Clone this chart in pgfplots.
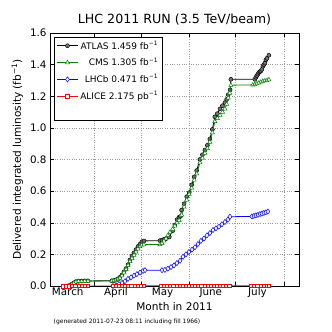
\documentclass[border=0pt]{standalone}
\usepackage{fontspec}
\setmainfont{DejaVu Sans}
\usepackage{pgfplots}
\pgfplotsset{compat=1.18}
\definecolor{mplgreen}{RGB}{0,128,0}
\begin{document}
\begin{tikzpicture}
\path[use as bounding box] (-50bp,-46bp) rectangle (282bp,286bp);
\begin{axis}[
  at={(0,0)}, anchor=south west,
  scale only axis, width=249bp, height=253bp,
  xmin=62.6, xmax=222.7, ymin=0, ymax=1.6,
  xtick={91,121,152,182,213}, xticklabels={},
  extra x ticks={74,105,135,166,196},
  extra x tick labels={March,April,May,June,July},
  extra x tick style={grid=none, major tick length=0pt},
  xticklabel style={yshift=2bp},
  ytick={0,0.2,0.4,0.6,0.8,1.0,1.2,1.4,1.6},
  yticklabel style={/pgf/number format/.cd, fixed, fixed zerofill, precision=1},
  /pgf/number format/assume math mode=true,
  tick align=inside,
  major tick length=4bp,
  tick style={black, line width=0.5pt},
  grid=major,
  grid style={dotted, gray!80, line width=0.5pt},
  axis line style={line width=0.8pt},
  ticklabel style={font=\fontsize{10.4}{12}\selectfont},
  title={LHC 2011 RUN (3.5 TeV/beam)},
  title style={font=\fontsize{12.7}{15}\selectfont, yshift=-2bp},
  xlabel={Month in 2011},
  xlabel style={yshift=1.5bp},
  ylabel={Delivered integrated luminosity (fb\textsuperscript{−1})},
  label style={font=\fontsize{10.6}{12}\selectfont},
  legend style={at={(0.018,0.985)}, anchor=north west, draw=black, line width=0.6pt,
    font=\fontsize{9}{11}\selectfont, row sep=3.2bp, inner sep=1.8bp},
  legend cell align=right,
  legend image code/.code={\draw[mark repeat=2,mark phase=2] plot coordinates {(0cm,0cm) (0.37cm,0cm) (0.74cm,0cm)};},
  clip mode=individual,
]
% ATLAS
\addplot[black, line width=0.8pt, mark=*, mark size=2pt, mark options={fill=black!55, draw=black, line width=0.5pt}] coordinates {
(74.2,0) (75.5,0.005) (76.7,0.012) (78.0,0.02) (79.3,0.028) (81.0,0.03) (83.0,0.031) (85.0,0.032) (87.0,0.032)
(102.4,0.033) (103.7,0.035) (105.0,0.038) (106.3,0.045) (107.6,0.055) (108.9,0.07) (110.2,0.09) (111.5,0.11)
(112.8,0.135) (114.0,0.165) (115.3,0.19) (116.6,0.21) (117.9,0.23) (119.2,0.25) (120.5,0.265) (121.7,0.28) (123.0,0.285)
(133.3,0.287) (134.6,0.29) (135.9,0.295) (137.3,0.30) (139.3,0.31) (141.5,0.35) (142.9,0.386) (144.3,0.42) (145.6,0.435)
(146.5,0.44) (147.2,0.48) (148.8,0.52) (150.5,0.565) (152.1,0.59) (153.7,0.64) (155.3,0.69) (156.9,0.73) (159.0,0.80)
(160.6,0.83) (162.2,0.86) (163.8,0.89) (165.4,0.93) (167.0,0.99) (168.6,1.07) (170.2,1.09) (171.9,1.12) (173.5,1.14)
(175.1,1.16) (176.2,1.18) (177.2,1.21) (178.4,1.24) (178.9,1.307)
(194.3,1.307) (195.0,1.32) (195.6,1.33) (196.3,1.34) (196.9,1.35) (197.6,1.355) (198.2,1.36) (198.8,1.37)
(199.5,1.39) (200.1,1.40) (200.8,1.41) (201.4,1.43) (202.1,1.44) (203.3,1.459)
};
\addlegendentry{ATLAS 1.459 fb\textsuperscript{−1}}
% CMS
\addplot[mplgreen, line width=0.8pt, mark=triangle*, mark size=2.4pt, mark options={fill=white, draw=mplgreen, line width=0.5pt}] coordinates {
(74.2,0) (75.5,0.004) (76.7,0.01) (78.0,0.018) (79.3,0.026) (81.0,0.03) (83.0,0.03) (85.0,0.031) (87.0,0.031)
(102.4,0.032) (103.7,0.033) (105.0,0.036) (106.3,0.042) (107.6,0.05) (108.9,0.065) (110.2,0.085) (111.5,0.105)
(112.8,0.13) (114.0,0.155) (115.3,0.175) (116.6,0.195) (117.9,0.215) (119.2,0.235) (120.5,0.25) (121.7,0.26) (123.0,0.262)
(133.3,0.263) (134.6,0.27) (135.9,0.285) (137.2,0.30) (138.4,0.32) (139.7,0.34) (141.5,0.36) (142.9,0.38) (144.3,0.40)
(145.6,0.415) (147.2,0.45) (148.8,0.50) (150.5,0.545) (152.1,0.58) (153.7,0.62) (155.3,0.67) (156.9,0.71) (159.0,0.78)
(160.6,0.81) (162.2,0.84) (163.8,0.87) (165.4,0.91) (167.0,0.97) (168.6,1.04) (170.2,1.06) (171.9,1.08) (173.5,1.10)
(175.1,1.12) (176.2,1.15) (177.2,1.19) (178.2,1.22) (178.9,1.27)
(193.0,1.272) (194.3,1.275) (195.6,1.28) (196.9,1.285) (198.2,1.29) (199.5,1.295) (200.8,1.298) (202.1,1.30) (203.3,1.305)
};
\addlegendentry{CMS 1.305 fb\textsuperscript{−1}}
% LHCb
\addplot[blue, line width=0.8pt, mark=diamond*, mark size=2.6pt, mark options={fill=white, draw=blue, line width=0.5pt}] coordinates {
(103.1,0) (105.0,0.005) (106.9,0.012) (108.9,0.02) (110.8,0.03) (112.7,0.045) (114.7,0.055) (116.6,0.065) (118.5,0.075)
(120.5,0.085) (122.4,0.095) (123.7,0.10)
(134.6,0.10) (136.5,0.102) (138.4,0.11) (140.4,0.12) (142.3,0.13) (144.2,0.145) (146.2,0.16) (148.1,0.185) (150.0,0.20)
(151.9,0.215) (153.9,0.23) (155.8,0.245) (157.7,0.265) (159.6,0.285) (161.6,0.30) (163.5,0.32) (165.4,0.335) (167.4,0.354)
(169.3,0.365) (171.2,0.375) (173.1,0.39) (175.1,0.405) (177.0,0.42) (178.3,0.438)
(192.4,0.44) (193.7,0.443) (195.0,0.447) (196.3,0.45) (197.6,0.455) (198.8,0.458) (200.1,0.462) (201.4,0.466) (202.7,0.471)
};
\addlegendentry{LHCb 0.471 fb\textsuperscript{−1}}
% ALICE
\addplot[red, line width=0.8pt, mark=square*, mark size=1.8pt, mark options={fill=white, draw=red, line width=0.5pt}] coordinates {
(71,0) (73,0.0001) (75,0.0002) (77,0.0003) (79,0.0004) (81,0.0005) (83,0.0005) (85,0.0005) (87,0.0005)
(103,0.0005) (105,0.0006) (107,0.0007) (109,0.0008) (111,0.0009) (113,0.001) (115,0.001) (117,0.001) (119,0.0011) (121,0.0011) (123,0.0012)
(134,0.0012) (136,0.0012) (138,0.0013) (140,0.0013) (142,0.0013) (144,0.0014) (146,0.0014) (148,0.0014) (150,0.0015)
(152,0.0015) (154,0.0015) (156,0.0015) (158,0.0016) (160,0.0016) (162,0.0016) (164,0.0016) (166,0.0016) (168,0.0017)
(170,0.0017) (172,0.0017) (174,0.0017) (176,0.0017) (178,0.0018)
(192,0.0018) (194,0.0019) (196,0.0019) (198,0.002) (200,0.002) (202,0.0021) (203.3,0.002175)
};
\addlegendentry{ALICE 2.175 pb\textsuperscript{−1}}
\addlegendimage{empty legend}
\addlegendentry{\phantom{PRELIMINARY}}
\node[anchor=west, font=\fontsize{9}{11}\selectfont, inner sep=0pt] at (rel axis cs:0.028,0.689) {PRELIMINARY};
\end{axis}
\node[font=\fontsize{6}{7}\selectfont] at (77bp,-35.7bp) {(generated 2011-07-23 08:11 including fill 1966)};
\end{tikzpicture}
\end{document}
